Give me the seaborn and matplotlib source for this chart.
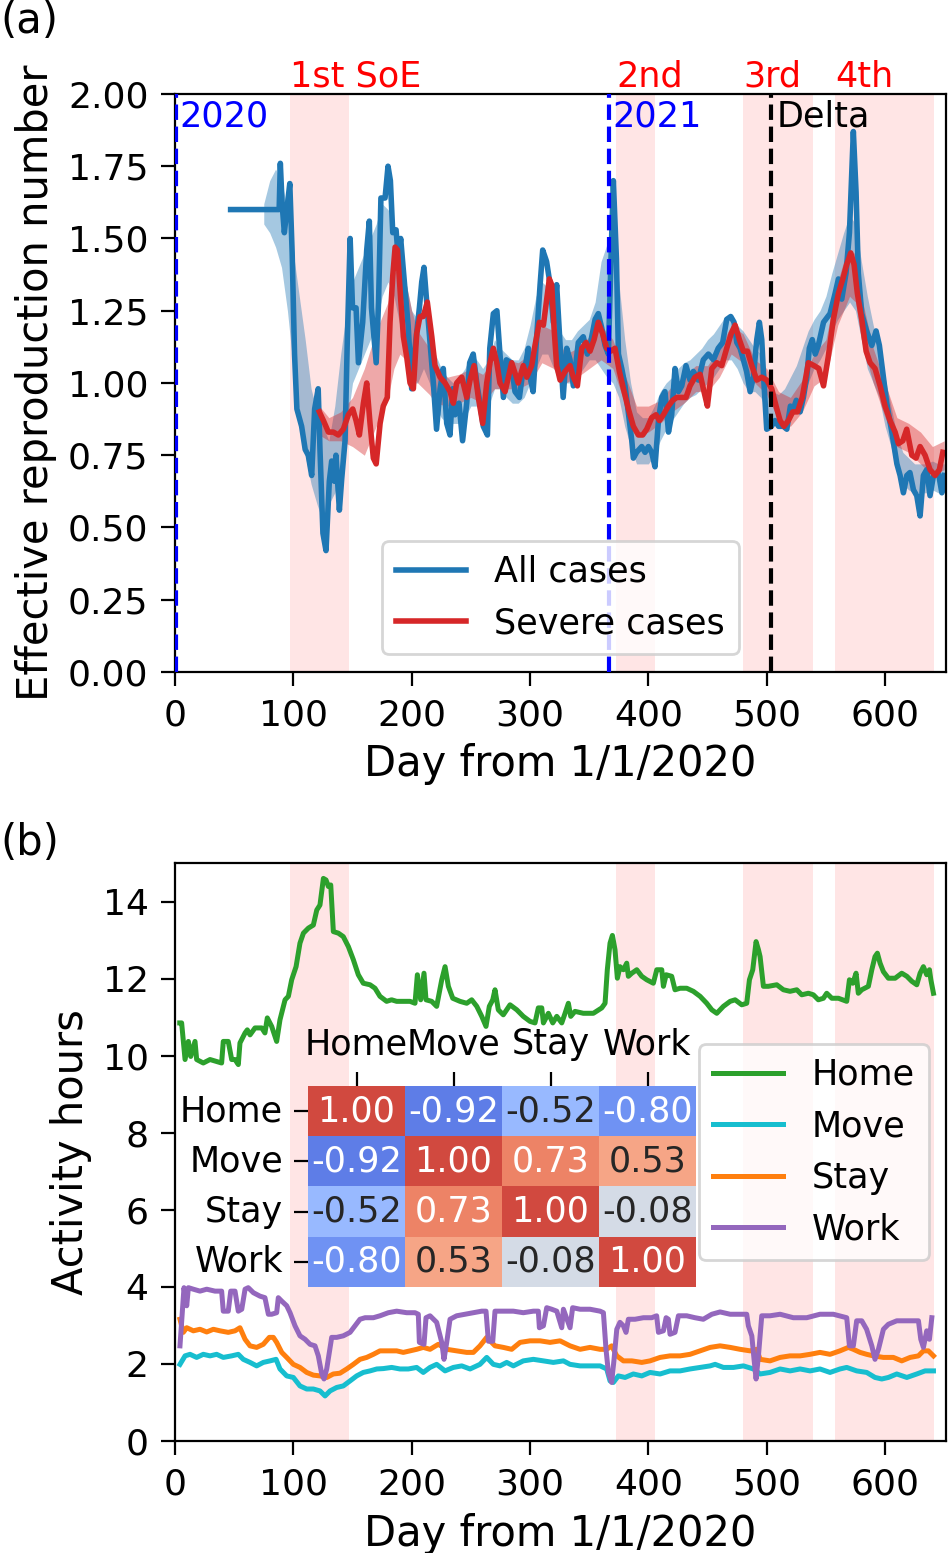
import numpy as np
import pandas as pd
import matplotlib
matplotlib.use("Agg")
import matplotlib.pyplot as plt
import seaborn as sns

# ---------------- data: panel (a) ----------------
all_day = [47, 88, 89, 90.5, 92.4, 94.5, 97, 99, 101, 103, 105, 107, 110, 112.6, 115.5, 118, 121, 122.5, 125, 127.6,
           130.4, 132.4, 134.6, 136, 138.9, 140.9, 143.7, 145.6, 148, 150, 153, 155, 158.6, 162, 164.2, 166, 170, 172,
           174, 177.5, 180, 182, 184, 186.8, 188.7, 190.7, 194, 197, 200, 202.8, 206.5, 208.5, 210.4, 212.7, 215.5,
           218.3, 221, 224, 226.7, 229.6, 232.4, 234.6, 236.6, 240, 243, 246.5, 249, 252, 255, 257.7, 260.5, 264, 266,
           269, 272, 274.6, 277.5, 280, 284, 287.3, 291, 294.3, 296.5, 298.6, 300.5, 302.6, 305.6, 308.5, 310.7, 314,
           317, 319.7, 322.5, 325.4, 328, 331, 333.8, 336.6, 340.8, 345, 348.4, 350.7, 355, 357.7, 360.6, 363.4,
           366.2, 368.2, 370.4, 373, 374.7, 377.5, 380.3, 383, 386, 387.3, 390, 394.4, 397.2, 400, 402.8, 405.6,
           408.5, 411.3, 414, 417, 419.7, 422.5, 425.4, 428.2, 431.8, 435.2, 438, 442.2, 446.4, 450.7, 455, 459,
           462.8, 466.2, 469.6, 472.4, 474.7, 477.5, 480.3, 483, 486, 488.7, 491.6, 493.8, 495.8, 497.8, 500, 504,
           507, 510, 514, 517, 520, 522.5, 525, 528.2, 531, 533.8, 536, 538.5, 541, 543.6, 548, 553.5, 557.8, 560.6,
           563.4, 567, 569.9, 573.2, 575.5, 577.4, 580.3, 584.4, 588.8, 592.4, 595.2, 598.6, 601.4, 605.7, 610,
           612.7, 615.5, 618.4, 621, 624, 626.8, 629.6, 632.4, 635.2, 638, 640.9, 645, 648, 650]
all_rt = [1.60, 1.60, 1.76, 1.62, 1.52, 1.60, 1.69, 1.45, 1.10, 0.91, 0.88, 0.85, 0.77, 0.75, 0.68, 0.91, 0.98, 0.77,
          0.48, 0.42, 0.66, 0.73, 0.66, 0.75, 0.56, 0.67, 0.80, 1.15, 1.50, 1.26, 1.26, 1.07, 1.21, 1.46, 1.56, 1.26,
          1.07, 1.28, 1.64, 1.64, 1.75, 1.70, 1.52, 1.53, 1.43, 1.50, 1.34, 1.20, 0.98, 1.12, 1.26, 1.35, 1.40, 1.28,
          1.14, 1.00, 0.84, 0.98, 1.05, 0.86, 0.82, 0.98, 0.89, 0.93, 0.80, 0.93, 1.07, 1.10, 1.00, 0.93, 0.85, 0.82,
          1.12, 1.24, 1.25, 1.10, 0.95, 1.08, 1.07, 0.97, 0.95, 1.05, 1.07, 1.12, 1.01, 0.97, 1.16, 1.34, 1.46, 1.42,
          1.34, 1.21, 1.34, 1.13, 0.95, 1.12, 1.08, 0.99, 1.14, 1.16, 1.10, 1.13, 1.22, 1.24, 1.19, 1.13, 1.10, 1.40,
          1.70, 1.43, 1.10, 1.05, 0.99, 0.90, 0.80, 0.74, 0.76, 0.78, 0.76, 0.78, 0.76, 0.71, 0.87, 0.95, 0.97, 0.83,
          0.89, 1.05, 0.97, 0.99, 1.06, 1.01, 1.04, 1.01, 1.08, 1.10, 1.08, 1.12, 1.14, 1.22, 1.23, 1.21, 1.14, 1.12,
          1.08, 1.04, 0.97, 1.02, 1.15, 1.21, 1.15, 0.99, 0.84, 0.85, 0.87, 0.85, 0.85, 0.84, 0.92, 0.91, 0.94, 0.90,
          0.95, 1.02, 1.12, 1.15, 1.10, 1.13, 1.21, 1.24, 1.31, 1.36, 1.29, 1.38, 1.52, 1.87, 1.66, 1.38, 1.24, 1.18,
          1.13, 1.18, 1.13, 1.02, 0.93, 0.83, 0.72, 0.68, 0.62, 0.68, 0.69, 0.63, 0.61, 0.54, 0.68, 0.70, 0.61, 0.68,
          0.69, 0.62, 0.68]

all_band_day = [75, 80, 85, 90, 95, 100, 105, 110, 115, 120, 125, 130, 135, 140, 145, 150, 155, 160, 165, 170, 175,
                180, 185, 190, 195, 200, 205, 210, 215, 220, 225, 230, 235, 240, 245, 250, 255, 260, 265, 270, 275,
                280, 285, 290, 295, 300, 305, 310, 315, 320, 325, 330, 335, 340, 345, 350, 355, 360, 365, 370, 375,
                380, 385, 390, 395, 400, 405, 410, 415, 420, 425, 430, 435, 440, 445, 450, 455, 460, 465, 470, 475,
                480, 485, 490, 495, 500, 505, 510, 515, 520, 525, 530, 535, 540, 545, 550, 555, 560, 565, 570, 575,
                580, 585, 590, 595, 600, 605, 610, 615, 620, 625, 630, 635, 640, 645, 650]
all_lo = [1.55, 1.52, 1.47, 1.40, 1.25, 1.05, 0.90, 0.75, 0.65, 0.58, 0.52, 0.58, 0.62, 0.70, 0.85, 1.00, 1.05, 1.10,
          1.15, 1.20, 1.30, 1.35, 1.30, 1.20, 1.10, 1.00, 1.00, 1.05, 1.00, 0.92, 0.88, 0.86, 0.86, 0.86, 0.88, 0.92,
          0.92, 0.90, 0.92, 0.98, 0.98, 0.95, 0.93, 0.93, 0.95, 1.00, 1.05, 1.10, 1.10, 1.05, 1.00, 1.00, 1.00, 1.02,
          1.05, 1.08, 1.08, 1.05, 1.02, 1.00, 0.95, 0.85, 0.78, 0.72, 0.72, 0.72, 0.75, 0.80, 0.84, 0.87, 0.90, 0.93,
          0.95, 0.96, 0.98, 1.00, 1.02, 1.05, 1.08, 1.08, 1.05, 1.00, 0.97, 0.97, 0.95, 0.90, 0.86, 0.85, 0.86, 0.88,
          0.90, 0.95, 1.00, 1.05, 1.08, 1.12, 1.18, 1.22, 1.25, 1.28, 1.25, 1.15, 1.05, 1.00, 0.95, 0.85, 0.78, 0.70,
          0.65, 0.63, 0.62, 0.62, 0.62, 0.63, 0.62, 0.62]
all_hi = [1.62, 1.70, 1.74, 1.70, 1.60, 1.45, 1.30, 1.15, 0.98, 0.90, 0.85, 0.80, 0.92, 1.10, 1.25, 1.35, 1.40, 1.45,
          1.50, 1.55, 1.62, 1.60, 1.55, 1.45, 1.35, 1.25, 1.22, 1.25, 1.20, 1.10, 1.05, 1.02, 1.00, 1.02, 1.05, 1.10,
          1.08, 1.05, 1.08, 1.15, 1.12, 1.10, 1.08, 1.08, 1.12, 1.20, 1.30, 1.35, 1.33, 1.25, 1.18, 1.15, 1.15, 1.18,
          1.20, 1.22, 1.28, 1.42, 1.48, 1.45, 1.35, 1.15, 1.00, 0.90, 0.88, 0.88, 0.92, 0.97, 1.00, 1.02, 1.05, 1.07,
          1.08, 1.10, 1.12, 1.15, 1.17, 1.20, 1.23, 1.22, 1.20, 1.18, 1.15, 1.12, 1.10, 1.02, 0.97, 0.96, 0.98, 1.02,
          1.06, 1.12, 1.18, 1.22, 1.25, 1.30, 1.38, 1.45, 1.52, 1.58, 1.55, 1.42, 1.30, 1.20, 1.12, 1.02, 0.92, 0.82,
          0.76, 0.74, 0.72, 0.72, 0.72, 0.73, 0.72, 0.72]

sev_day = [122, 125.4, 129.6, 133.8, 138, 142.2, 146.5, 150.2, 153, 155.8, 159.2, 162, 164.8, 167.6, 170, 173.3, 176,
           179.4, 181.7, 184, 186, 188, 190.7, 193, 195.8, 198.6, 201.4, 204.2, 207, 209.8, 213.2, 217, 219.7, 224,
           228.2, 232.4, 235.2, 238, 242.3, 246.5, 249.3, 252.7, 256.3, 260, 263.4, 266.2, 269, 271.9, 274.6, 278.9,
           284.5, 290, 294.3, 297.2, 301.4, 304.2, 307.9, 311.3, 314.1, 316.3, 318.3, 320.3, 322.5, 325.4, 329.6,
           333.8, 336.6, 340, 343.7, 347.3, 350.7, 354.1, 357.7, 361.4, 364.8, 368.2, 371.8, 375.5, 378.9, 383.1,
           387.3, 391.5, 395.2, 398.6, 402.8, 406.5, 409.3, 412.7, 416.9, 420.6, 424, 428.2, 431.8, 435.2, 439.4,
           443.7, 447, 449.9, 453.6, 457.8, 462, 466.2, 469.9, 473.3, 476.9, 480.3, 483.7, 487.4, 491.6, 495.8, 500,
           504.2, 507.9, 511.3, 514.6, 518.3, 522, 526, 530, 535.2, 540, 544, 548, 552, 556.3, 560.6, 564.3, 567.6,
           571, 573.8, 576.6, 580.3, 584, 587.3, 591.5, 595.8, 600, 604.2, 608.5, 611.3, 615, 618.3, 622.6, 626.2,
           629.6, 633.8, 638, 642.3, 645.9, 648.8]
sev_rt = [0.90, 0.87, 0.83, 0.83, 0.82, 0.84, 0.89, 0.91, 0.87, 0.82, 0.93, 1.00, 0.86, 0.74, 0.72, 0.86, 0.92, 0.95,
          1.21, 1.37, 1.47, 1.46, 1.29, 1.16, 1.09, 1.00, 0.98, 1.17, 1.23, 1.23, 1.28, 1.16, 1.06, 1.02, 1.00, 0.97,
          0.93, 1.00, 1.02, 0.95, 1.01, 1.06, 0.95, 0.86, 1.00, 1.07, 1.12, 1.07, 1.00, 0.97, 1.07, 1.00, 1.06, 1.02,
          1.06, 1.13, 1.21, 1.20, 1.29, 1.36, 1.34, 1.19, 1.06, 1.01, 1.04, 1.06, 1.02, 0.99, 1.12, 1.14, 1.11, 1.15,
          1.21, 1.17, 1.12, 1.11, 1.12, 1.04, 0.98, 0.91, 0.85, 0.82, 0.82, 0.84, 0.88, 0.89, 0.87, 0.89, 0.92, 0.94,
          0.95, 0.95, 0.95, 0.99, 1.02, 1.03, 0.97, 0.92, 1.05, 1.07, 1.06, 1.12, 1.17, 1.20, 1.15, 1.11, 1.11, 1.06,
          1.01, 1.02, 1.01, 0.98, 0.92, 0.87, 0.85, 0.87, 0.90, 0.90, 0.95, 1.07, 1.06, 1.05, 0.99, 1.09, 1.22, 1.31,
          1.36, 1.41, 1.45, 1.41, 1.31, 1.22, 1.11, 1.07, 1.05, 0.99, 0.92, 0.87, 0.83, 0.79, 0.80, 0.84, 0.75, 0.74,
          0.78, 0.75, 0.70, 0.68, 0.70, 0.76]

sev_band_day = [122, 130, 140, 150, 160, 170, 180, 185, 190, 195, 200, 205, 210, 215, 220, 230, 240, 250, 260, 270,
                280, 290, 300, 310, 320, 330, 340, 350, 360, 370, 380, 390, 400, 410, 420, 430, 440, 450, 460, 470,
                480, 490, 500, 510, 520, 530, 540, 550, 560, 565, 570, 575, 580, 590, 600, 610, 620, 630, 640, 650]
sev_lo = [0.82, 0.80, 0.80, 0.78, 0.75, 0.85, 0.95, 1.05, 1.10, 1.08, 1.03, 1.00, 0.98, 0.96, 0.93, 0.92, 0.93, 0.95,
          0.93, 0.98, 0.98, 0.98, 1.00, 1.07, 1.05, 1.00, 1.02, 1.05, 1.08, 1.05, 0.93, 0.83, 0.83, 0.86, 0.90, 0.93,
          0.97, 0.97, 1.02, 1.10, 1.07, 1.00, 0.96, 0.87, 0.85, 0.90, 0.99, 1.02, 1.20, 1.25, 1.30, 1.28, 1.15, 1.00,
          0.88, 0.78, 0.76, 0.72, 0.68, 0.70]
sev_hi = [0.92, 0.88, 0.90, 0.95, 1.05, 1.18, 1.28, 1.38, 1.40, 1.35, 1.25, 1.18, 1.15, 1.12, 1.06, 1.02, 1.03, 1.05,
          1.03, 1.08, 1.08, 1.07, 1.10, 1.20, 1.18, 1.10, 1.12, 1.16, 1.20, 1.15, 1.03, 0.92, 0.92, 0.94, 0.99, 1.02,
          1.06, 1.06, 1.12, 1.20, 1.17, 1.08, 1.05, 0.97, 0.95, 1.01, 1.10, 1.15, 1.35, 1.42, 1.45, 1.45, 1.30, 1.12,
          1.00, 0.88, 0.86, 0.83, 0.78, 0.80]

soe_start = [97, 373, 480, 558]
soe_end = [147, 406, 539, 641]
soe_label = ["1st SoE", "2nd", "3rd", "4th"]
year_day = [1, 367]
year_label = ["2020", "2021"]
delta_day = 504

# ---------------- data: panel (b) ----------------
home_day = [4, 5.6, 8.5, 11.3, 13.3, 16.9, 18.3, 23.9, 29.6, 35.2, 39.4, 40.8, 45, 47.9, 50.7, 53.5, 54.9, 59.2, 61.1,
            63.4, 67.6, 73.3, 76, 78, 81.7, 85.9, 88.7, 93, 95.8, 98.6, 102.3, 105.6, 108.5, 112.7, 116.9, 119.8,
            122.5, 125.4, 127.6, 129.6, 131.6, 133.8, 138, 142.2, 146.5, 150.7, 154.9, 159.1, 164.8, 169, 173.2,
            178.8, 183, 187.3, 192.9, 198.6, 202.8, 204.8, 207.6, 210.4, 212.1, 216.9, 221.1, 225.4, 228.2, 231,
            234.7, 240.8, 246.5, 250.7, 255, 259.2, 262.8, 265.6, 268.5, 270.4, 273.2, 277.4, 283.1, 288.8, 294.3,
            300, 304.2, 307, 309.9, 311.3, 315.5, 319.2, 322.6, 326.8, 329.6, 332.4, 334.4, 338, 345, 353.5, 360.6,
            363.4, 365.3, 367.6, 369.6, 371.8, 373.8, 376, 378.9, 381.7, 383.1, 386, 390.2, 394.4, 398.6, 404.2,
            407.1, 411.3, 412.7, 415, 419.7, 422.5, 426.8, 432.4, 438, 443.7, 449.3, 453.6, 457.8, 463.4, 469.1,
            473.3, 478.9, 483.1, 485.4, 488.2, 491, 493, 494.4, 497.2, 501.4, 508.5, 514.1, 519.7, 525.4, 529.6,
            535.2, 539.4, 543.6, 547.9, 550.7, 555, 560.6, 567.6, 569.9, 572.7, 575.5, 577.4, 580.3, 585.9, 588.8,
            591.5, 593.5, 595.8, 598.6, 602.8, 608.5, 614.1, 618.4, 622.6, 626.8, 629.6, 632.4, 635.2, 637.5, 638.7,
            640.9]
home_h = [10.85, 10.85, 9.90, 10.37, 9.98, 10.37, 9.90, 9.81, 9.90, 9.85, 9.81, 10.37, 10.37, 9.90, 9.90, 9.77, 10.33,
          10.59, 10.67, 10.54, 10.72, 10.72, 10.59, 10.98, 10.76, 10.37, 10.93, 11.45, 11.54, 11.97, 12.31, 12.92,
          13.18, 13.31, 13.39, 13.78, 13.91, 14.60, 14.56, 14.39, 14.43, 13.22, 13.18, 13.09, 12.83, 12.49, 12.10,
          11.88, 11.84, 11.75, 11.54, 11.41, 11.45, 11.41, 11.41, 11.41, 11.36, 12.10, 11.45, 12.14, 11.45, 11.41,
          11.28, 11.97, 12.31, 11.80, 11.49, 11.41, 11.36, 11.45, 11.28, 11.02, 10.76, 11.28, 11.45, 11.71, 11.19,
          11.06, 11.32, 11.19, 11.02, 10.89, 10.85, 11.24, 11.24, 10.85, 11.10, 10.85, 11.02, 10.85, 11.10, 11.36,
          11.02, 11.15, 11.10, 11.10, 11.24, 11.36, 12.23, 12.92, 13.12, 12.75, 12.01, 12.31, 12.23, 12.40, 12.06,
          12.14, 12.23, 12.06, 11.97, 11.88, 12.23, 12.23, 11.80, 12.10, 12.06, 11.71, 11.75, 11.75, 11.67, 11.54,
          11.36, 11.19, 11.10, 11.28, 11.41, 11.45, 11.32, 11.36, 11.97, 12.23, 12.96, 12.75, 12.57, 11.80, 11.80,
          11.84, 11.71, 11.67, 11.71, 11.58, 11.62, 11.58, 11.45, 11.49, 11.62, 11.49, 11.49, 11.41, 11.97, 11.88,
          12.14, 11.62, 11.71, 11.80, 12.23, 12.57, 12.66, 12.40, 12.18, 12.01, 12.01, 12.14, 12.06, 11.93, 11.84,
          12.14, 12.31, 12.10, 12.23, 11.97, 11.62]

move_day = [4.2, 8.5, 12.7, 18.3, 23.9, 29.6, 35.2, 40.8, 47.9, 53.5, 57.7, 63.4, 69, 74.6, 80.3, 85.4, 88.7, 94.4,
            100, 105.6, 111.3, 116.9, 122.5, 126.8, 131, 136.6, 142.2, 147.9, 153.5, 159.1, 164.8, 170.5, 176, 183.1,
            190.1, 197.2, 204.2, 209.8, 215.5, 221.1, 228.2, 235.2, 242.3, 249.3, 257.7, 263.4, 269, 274.6, 280.3,
            285.9, 294.3, 302.8, 311.3, 319.7, 328.2, 333.8, 342.3, 350.7, 359.2, 364.8, 367.6, 370.4, 374.6, 380.3,
            387.3, 394.4, 401.4, 409.9, 418.3, 426.8, 435.2, 443.7, 452.2, 456.4, 463.4, 471.9, 480.3, 488.8, 494.4,
            502.8, 511.3, 519.7, 528.2, 536.6, 545, 553.5, 561.9, 567.6, 576, 584.5, 591.5, 597.2, 602.8, 609.9,
            618.4, 626.8, 633.8, 640.9]
move_h = [1.99, 2.21, 2.25, 2.17, 2.25, 2.21, 2.25, 2.17, 2.21, 2.25, 2.12, 2.04, 1.95, 2.04, 2.08, 2.12, 1.87, 1.69,
          1.65, 1.43, 1.35, 1.35, 1.30, 1.17, 1.30, 1.39, 1.43, 1.56, 1.69, 1.78, 1.82, 1.87, 1.88, 1.91, 1.87, 1.87,
          1.91, 1.78, 1.91, 1.99, 1.82, 1.91, 1.95, 1.87, 1.99, 2.17, 1.99, 1.95, 2.04, 1.95, 2.08, 2.12, 2.08, 2.04,
          2.08, 1.99, 1.95, 1.95, 1.95, 1.87, 1.56, 1.52, 1.69, 1.65, 1.74, 1.69, 1.78, 1.74, 1.82, 1.82, 1.87, 1.91,
          1.95, 1.99, 1.91, 1.91, 1.95, 1.87, 1.74, 1.78, 1.87, 1.82, 1.87, 1.82, 1.87, 1.78, 1.87, 1.91, 1.82, 1.78,
          1.65, 1.61, 1.65, 1.74, 1.65, 1.74, 1.82, 1.82]

stay_day = [4.2, 7, 9.9, 15.5, 21.1, 26.8, 32.4, 38, 45, 50.7, 54.9, 59.2, 63.4, 69, 74.6, 79.7, 83.1, 85.9, 90.2,
            94.4, 100, 105.6, 111.3, 116.9, 122.5, 128.2, 133.8, 139.4, 145.1, 150.7, 156.3, 162, 167.6, 173.2,
            180.3, 187.3, 192.9, 198.6, 204.2, 209.8, 215.5, 222.5, 229.6, 238, 246.5, 252.1, 257.7, 263.4, 270.4,
            277.4, 284.5, 291.6, 300, 308.5, 316.9, 325.4, 333.8, 342.3, 350.7, 359.2, 364.8, 369, 373.3, 378.9, 386,
            394.4, 401.4, 409.9, 418.3, 426.8, 435.2, 443.7, 452.2, 460.6, 469.1, 477.5, 486, 491.6, 494.4, 502.8,
            511.3, 519.7, 528.2, 536.6, 545, 553.5, 561.9, 569, 573.2, 578.9, 584.5, 590.1, 598.6, 607, 614.1, 621.2,
            628.2, 632.4, 636.6, 640.9]
stay_h = [3.16, 2.82, 2.94, 2.86, 2.90, 2.83, 2.90, 2.86, 2.82, 2.86, 2.94, 2.64, 2.47, 2.43, 2.51, 2.69, 2.69, 2.56,
          2.30, 2.17, 1.99, 1.91, 1.78, 1.71, 1.69, 1.65, 1.74, 1.76, 1.87, 1.99, 2.12, 2.17, 2.25, 2.34, 2.34, 2.34,
          2.30, 2.34, 2.38, 2.43, 2.38, 2.51, 2.38, 2.34, 2.30, 2.30, 2.47, 2.69, 2.47, 2.43, 2.38, 2.56, 2.60, 2.60,
          2.56, 2.60, 2.47, 2.38, 2.43, 2.38, 2.38, 2.47, 2.21, 2.08, 2.08, 2.04, 2.08, 2.17, 2.21, 2.21, 2.25, 2.34,
          2.43, 2.47, 2.43, 2.38, 2.34, 2.38, 2.12, 2.08, 2.17, 2.21, 2.21, 2.25, 2.30, 2.25, 2.34, 2.43, 2.38, 2.30,
          2.25, 2.21, 2.17, 2.17, 2.08, 2.17, 2.21, 2.34, 2.34, 2.21]

work_day = [4.2, 7.6, 9.9, 11.3, 15.5, 21.1, 26.8, 33.8, 39.4, 40.8, 45, 47.1, 50.7, 53.5, 56.4, 59.2, 61.9, 66.2,
            71.8, 76, 78.9, 81.7, 85.9, 87.3, 90.2, 94.4, 97.2, 101.4, 105.6, 109.9, 114.1, 118.3, 121.1, 124, 125.9,
            128.2, 130.4, 132.4, 136.6, 142.2, 147.9, 152.1, 156.3, 160.6, 167.6, 173.2, 180.3, 187.3, 195.8, 202.8,
            205.6, 206.5, 210.4, 212.1, 215.5, 221.1, 225.4, 227.3, 229.6, 232.4, 238, 245, 252.1, 259.2, 262.8,
            264.8, 268.5, 270.4, 277.4, 285.9, 294.3, 302.8, 307, 307.9, 311.3, 314.1, 318.3, 322.6, 326.8, 328.2,
            333.8, 336, 342.3, 350.7, 359.2, 362, 364.2, 366.2, 369, 371, 373.3, 376, 378.9, 381.1, 383.1, 388.7,
            395.8, 402.8, 407, 408.5, 412.7, 415, 416.9, 418.3, 422.5, 425.4, 432.4, 439.4, 446.4, 453.6, 460.6,
            469.1, 477.5, 483.1, 484.5, 487.4, 489.3, 491, 493, 495.8, 502.8, 511.3, 522.5, 533.8, 545, 556.3, 567.6,
            569.9, 573.2, 576, 580.3, 584.4, 588.8, 591.5, 594.4, 598.6, 602.8, 609.9, 618.4, 628.2, 630.2, 632.4,
            635.2, 637.5, 639.5]
work_h = [2.47, 3.98, 3.51, 3.98, 3.94, 3.89, 3.94, 3.89, 3.89, 3.37, 3.37, 3.89, 3.89, 3.37, 3.42, 3.94, 3.98, 3.85,
          3.76, 3.72, 3.29, 3.29, 3.33, 3.72, 3.63, 3.51, 3.33, 2.99, 2.73, 2.64, 2.51, 2.47, 2.21, 1.74, 1.61, 1.87,
          2.30, 2.69, 2.69, 2.73, 2.82, 2.99, 3.16, 3.20, 3.20, 3.25, 3.33, 3.37, 3.33, 3.33, 3.29, 2.56, 2.51, 3.20,
          3.25, 3.08, 2.56, 2.12, 2.56, 3.16, 3.25, 3.29, 3.33, 3.37, 3.37, 2.59, 2.59, 3.37, 3.37, 3.37, 3.33, 3.37,
          3.37, 2.94, 2.99, 3.46, 3.42, 3.37, 2.94, 3.42, 2.94, 3.46, 3.42, 3.42, 3.37, 3.33, 2.38, 1.78, 1.52, 2.12,
          2.90, 3.08, 2.99, 2.82, 3.16, 3.16, 3.20, 3.20, 3.25, 2.82, 2.86, 3.20, 3.16, 2.77, 2.82, 3.25, 3.25, 3.20,
          3.16, 3.29, 3.35, 3.29, 3.29, 3.29, 2.99, 2.73, 2.12, 1.61, 2.21, 3.25, 3.25, 3.29, 3.20, 3.20, 3.29, 3.29,
          3.20, 2.47, 2.47, 3.12, 3.12, 2.90, 2.47, 2.12, 2.38, 2.90, 3.03, 3.12, 3.12, 3.12, 2.64, 2.43, 2.86, 2.64,
          3.20]

activities = ["Home", "Move", "Stay", "Work"]
act_colors = ["#2ca02c", "#17becf", "#ff7f0e", "#9467bd"]
corr = [[1.00, -0.92, -0.52, -0.80],
        [-0.92, 1.00, 0.73, 0.53],
        [-0.52, 0.73, 1.00, -0.08],
        [-0.80, 0.53, -0.08, 1.00]]

# ---------------- figure ----------------
plt.rcParams["font.family"] = ["DejaVu Sans"]
DPI = 200
fig = plt.figure(figsize=(948 / DPI, 1553 / DPI), dpi=DPI)
axA = fig.add_axes([0.1846, 0.5673, 0.8133, 0.3722])
axB = fig.add_axes([0.1846, 0.0721, 0.8133, 0.3722])
XMAX = 651.5

TICK = 13
LAB = 15
TXT = 12.6

# ---- panel (a) ----
for s, e in zip(soe_start, soe_end):
    axA.axvspan(s, e, color="red", alpha=0.1, lw=0, zorder=0)
for s, lab in zip(soe_start, soe_label):
    axA.text(s, 2.0, lab, color="red", fontsize=TXT, ha="left", va="bottom")
for d, lab in zip(year_day, year_label):
    axA.axvline(d, color="blue", ls="--", lw=1.5, zorder=3)
    axA.text(d + 3, 1.98, lab, color="blue", fontsize=TXT, ha="left", va="top")
axA.axvline(delta_day, color="black", ls="--", lw=1.5, zorder=3)
axA.text(delta_day + 4, 1.98, "Delta", color="black", fontsize=TXT, ha="left", va="top")

axA.fill_between(all_band_day, all_lo, all_hi, color="#1f77b4", alpha=0.4, lw=0)
axA.fill_between(sev_band_day, sev_lo, sev_hi, color="#d62728", alpha=0.4, lw=0)
sns.lineplot(x=all_day, y=all_rt, ax=axA, color="#1f77b4", lw=2, label="All cases")
sns.lineplot(x=sev_day, y=sev_rt, ax=axA, color="#d62728", lw=2, label="Severe cases")
axA.set_xlim(0, XMAX)
axA.set_ylim(0, 2.0)
axA.set_yticks([0, 0.25, 0.5, 0.75, 1.0, 1.25, 1.5, 1.75, 2.0])
axA.set_yticklabels(["0.00", "0.25", "0.50", "0.75", "1.00", "1.25", "1.50", "1.75", "2.00"])
axA.set_xticks([0, 100, 200, 300, 400, 500, 600])
axA.tick_params(labelsize=TICK, length=5, pad=4.5)
axA.set_xlabel("Day from 1/1/2020", fontsize=LAB)
axA.set_ylabel("Effective reproduction number", fontsize=LAB)
axA.legend(loc="lower center", fontsize=TXT)

# ---- panel (b) ----
for s, e in zip(soe_start, soe_end):
    axB.axvspan(s, e, color="red", alpha=0.1, lw=0, zorder=0)
series = [(home_day, home_h), (move_day, move_h), (stay_day, stay_h), (work_day, work_h)]
for (d, h), name, c in zip(series, activities, act_colors):
    sns.lineplot(x=d, y=h, ax=axB, color=c, lw=1.8, label=name)
axB.set_xlim(0, XMAX)
axB.set_ylim(0, 15)
axB.set_yticks([0, 2, 4, 6, 8, 10, 12, 14])
axB.set_xticks([0, 100, 200, 300, 400, 500, 600])
axB.tick_params(labelsize=TICK, length=5, pad=4.5)
axB.set_xlabel("Day from 1/1/2020", fontsize=LAB)
axB.set_ylabel("Activity hours", fontsize=LAB)
axB.legend(loc="center right", fontsize=TXT)

# ---- inset heatmap ----
axH = fig.add_axes([0.3249, 0.1713, 0.4093, 0.1294])
corr_df = pd.DataFrame(corr, index=activities, columns=activities)
sns.heatmap(corr_df, ax=axH, cmap="coolwarm", vmin=-1.2, vmax=1.2, annot=True, fmt=".2f",
            annot_kws={"fontsize": TXT}, cbar=False)
axH.xaxis.tick_top()
axH.tick_params(labelsize=TXT, length=5, pad=4)
axH.set_xticklabels(activities, rotation=0, fontsize=TXT)
axH.set_yticklabels(activities, rotation=0, fontsize=TXT)

fig.text(0.0, 1.0, "(a)", fontsize=15, ha="left", va="top")
fig.text(0.0, 1 - 822 / 1553, "(b)", fontsize=15, ha="left", va="top")

fig.savefig("out.png", dpi=DPI)
